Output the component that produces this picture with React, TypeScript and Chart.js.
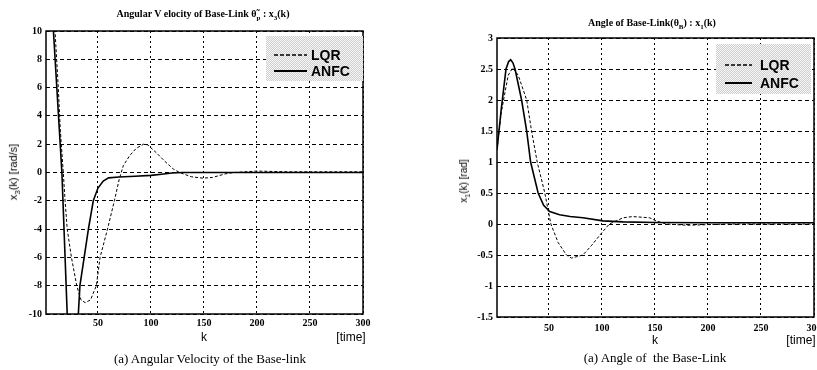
import React, { useEffect, useRef } from "react";
import { Chart, registerables } from "chart.js";

Chart.register(...registerables);

// ---------- shared x axis ----------
const kTicks = [50, 100, 150, 200, 250, 300];

// ---------- (left) angular velocity x3(k) ----------
const velTicks = [-10, -8, -6, -4, -2, 0, 2, 4, 6, 8, 10];
const kVelLQR = [1, 9.5, 12.6, 14.5, 17.3, 19, 21, 25, 30, 34, 38, 43, 48.5, 52, 59, 65.5, 70, 74, 80, 86, 93, 97, 105, 113, 121, 127, 138, 149, 158, 170, 178, 200, 230, 300];
const velLQR = [20, 10, 6, 3, 0, -2, -4, -6, -8, -9, -9.2, -9, -8, -6, -4, -2, -0.5, 0.5, 1.2, 1.7, 2.0, 1.95, 1.4, 0.8, 0.25, 0, -0.3, -0.4, -0.35, -0.1, 0, 0.1, 0.05, 0.05];
const kVelANFC = [1, 8, 16, 21, 26, 31.5, 33, 37, 41, 45.6, 50, 55, 60, 70, 85, 100, 110, 120, 130, 300];
const velANFC = [19, 10, 0, -10, -18, -10, -8, -6, -4, -2, -1.1, -0.6, -0.38, -0.32, -0.26, -0.2, -0.12, -0.03, 0, 0];

// ---------- (right) angle x1(k) ----------
const angTicks = [-1.5, -1, -0.5, 0, 0.5, 1, 1.5, 2, 2.5, 3];
const kAngLQR = [1, 5, 11.6, 15.8, 21, 29, 33.6, 38.9, 46.1, 51.8, 58.7, 66.5, 71.2, 82, 90, 99.4, 107, 119.8, 129, 145, 151, 160.6, 180, 200, 220, 300];
const angLQR = [1.2, 1.8, 2.4, 2.52, 2.4, 2.0, 1.5, 1.0, 0.5, 0, -0.3, -0.5, -0.55, -0.5, -0.35, -0.15, 0, 0.1, 0.12, 0.1, 0.05, 0, -0.02, -0.01, 0, 0];
const kAngANFC = [1, 5, 9.5, 12, 13.9, 16, 18, 24.2, 29, 32.7, 39.8, 45, 50.8, 60, 70, 82, 101, 120, 150, 200, 300];
const angANFC = [1.2, 1.85, 2.5, 2.62, 2.65, 2.6, 2.5, 2.0, 1.5, 1.0, 0.5, 0.3, 0.2, 0.15, 0.12, 0.1, 0.05, 0.035, 0.025, 0.02, 0.02];

const zip = (ks: number[], vs: number[]) => ks.map((k, i) => ({ x: k, y: vs[i] }));

const framePlugin = {
  id: "frame",
  afterDraw(chart: any) {
    const { ctx, chartArea } = chart;
    const { left, top, right, bottom } = chartArea;
    ctx.save();
    ctx.strokeStyle = "#000";
    ctx.lineWidth = 1.5;
    ctx.strokeRect(left, top, right - left, bottom - top);
    ctx.restore();
  },
};

type Area = { left: number; top: number; right: number; bottom: number };

function Plot(props: {
  width: number;
  height: number;
  area: Area;
  yMin: number;
  yMax: number;
  yTicks: number[];
  lqr: { x: number; y: number }[];
  anfc: { x: number; y: number }[];
  xPad: number;
}) {
  const ref = useRef<HTMLCanvasElement | null>(null);
  useEffect(() => {
    const { width, height, area, yMin, yMax, yTicks, lqr, anfc, xPad } = props;
    const tickFont = { family: "'Liberation Serif', serif", size: 10, weight: "bold" as const };
    const chart = new Chart(ref.current as HTMLCanvasElement, {
      type: "line",
      data: {
        datasets: [
          {
            label: "LQR",
            data: lqr,
            borderColor: "#000",
            borderWidth: 1,
            borderDash: [3, 2],
            pointRadius: 0,
            fill: false,
            clip: 0,
          },
          {
            label: "ANFC",
            data: anfc,
            borderColor: "#000",
            borderWidth: 1.6,
            pointRadius: 0,
            fill: false,
            clip: 0,
          },
        ],
      },
      options: {
        animation: false,
        responsive: false,
        maintainAspectRatio: false,
        layout: { padding: { left: 0, top: area.top, right: width - area.right, bottom: 0 } },
        plugins: { legend: { display: false }, tooltip: { enabled: false }, title: { display: false } },
        scales: {
          x: {
            type: "linear",
            min: 1,
            max: 300,
            afterBuildTicks: (s: any) => {
              s.ticks = kTicks.map((v) => ({ value: v }));
            },
            afterFit: (s: any) => {
              s.height = height - area.bottom;
            },
            ticks: {
              font: tickFont,
              color: "#000",
              padding: xPad,
              maxRotation: 0,
              autoSkip: false,
              callback: (v: any) => String(v),
            },
            grid: { color: "#000", lineWidth: 1, drawTicks: false },
            border: { display: false, dash: [2, 3] },
          },
          y: {
            type: "linear",
            min: yMin,
            max: yMax,
            afterBuildTicks: (s: any) => {
              s.ticks = yTicks.map((v) => ({ value: v }));
            },
            afterFit: (s: any) => {
              s.width = area.left;
            },
            ticks: {
              font: tickFont,
              color: "#000",
              padding: 4,
              autoSkip: false,
              callback: (v: any) => String(v),
            },
            grid: { color: "#000", lineWidth: 1, drawTicks: false },
            border: { display: false, dash: [4, 3] },
          },
        },
      } as any,
      plugins: [framePlugin],
    });
    return () => chart.destroy();
  }, []);
  return (
    <canvas
      ref={ref}
      width={props.width}
      height={props.height}
      style={{ display: "block", width: props.width, height: props.height }}
    />
  );
}

const abs = (extra: React.CSSProperties): React.CSSProperties => ({
  position: "absolute",
  whiteSpace: "pre",
  color: "#000",
  lineHeight: 1,
  ...extra,
});

function Legend(props: { left: number; top: number; width: number; height: number; row1: number; row2: number; lineX: number; lineW: number; textX: number }) {
  const { left, top, width, height, row1, row2, lineX, lineW, textX } = props;
  const txt: React.CSSProperties = {
    position: "absolute",
    left: textX,
    fontFamily: "'Liberation Sans', Arial, sans-serif",
    fontWeight: "bold",
    fontSize: 14,
    lineHeight: "14px",
    color: "#000",
  };
  return (
    <div
      style={{
        position: "absolute",
        left,
        top,
        width,
        height,
        backgroundImage: "repeating-conic-gradient(#cfcfcf 0% 25%, #f6f6f6 0% 50%)",
        backgroundSize: "2px 2px",
      }}
    >
      <svg width={width} height={height} style={{ position: "absolute", left: 0, top: 0 }}>
        <line x1={lineX} y1={row1} x2={lineX + lineW} y2={row1} stroke="#000" strokeWidth={1.3} strokeDasharray="4 2" />
        <line x1={lineX} y1={row2} x2={lineX + lineW} y2={row2} stroke="#000" strokeWidth={2} />
      </svg>
      <div style={{ ...txt, top: row1 - 7 }}>LQR</div>
      <div style={{ ...txt, top: row2 - 7 }}>ANFC</div>
    </div>
  );
}

export default function App() {
  const serifBold: React.CSSProperties = { fontFamily: "'Liberation Serif', serif", fontWeight: "bold", fontSize: 10 };
  const serif: React.CSSProperties = { fontFamily: "'Liberation Serif', serif", fontSize: 13 };
  const sans: React.CSSProperties = { fontFamily: "'Liberation Sans', Arial, sans-serif", fontSize: 12 };
  return (
    <div style={{ position: "absolute", left: 0, top: 0, width: 817, height: 370, overflow: "hidden", background: "#fff" }}>
      {/* left chart */}
      <div style={{ position: "absolute", left: 0, top: 0 }}>
        <Plot
          width={400}
          height={370}
          area={{ left: 46, top: 31, right: 363, bottom: 314 }}
          yMin={-10}
          yMax={10}
          yTicks={velTicks}
          lqr={zip(kVelLQR, velLQR)}
          anfc={zip(kVelANFC, velANFC)}
          xPad={3}
        />
      </div>
      <div style={abs({ ...serifBold, left: 203, top: 15, transform: "translate(-50%,-50%)" })}>
        Angular V elocity of Base-Link θ̃<sub style={{ fontSize: 7 }}>p</sub> : x<sub style={{ fontSize: 7 }}>3</sub>(k)
      </div>
      <div style={abs({ fontFamily: "'Liberation Sans', Arial, sans-serif", fontSize: 11, left: 15, top: 172, transform: "translate(-50%,-50%) rotate(-90deg)" })}>
        x<sub style={{ fontSize: 8 }}>3</sub>(k) [rad/s]
      </div>
      <Legend left={266} top={36} width={97} height={45} row1={19} row2={35} lineX={8} lineW={33} textX={45} />
      <div style={abs({ ...sans, left: 204, top: 337, transform: "translate(-50%,-50%)" })}>k</div>
      <div style={abs({ ...sans, left: 351, top: 337, transform: "translate(-50%,-50%)" })}>[time]</div>
      <div style={abs({ ...serif, left: 210, top: 358, transform: "translate(-50%,-50%)" })}>(a) Angular Velocity of the Base-link</div>

      {/* right chart */}
      <div style={{ position: "absolute", left: 410, top: 0 }}>
        <Plot
          width={420}
          height={370}
          area={{ left: 87, top: 38, right: 404, bottom: 317 }}
          yMin={-1.5}
          yMax={3}
          yTicks={angTicks}
          lqr={zip(kAngLQR, angLQR)}
          anfc={zip(kAngANFC, angANFC)}
          xPad={5}
        />
      </div>
      <div style={abs({ ...serifBold, left: 652, top: 24, transform: "translate(-50%,-50%)" })}>
        Angle of Base-Link(θ<sub style={{ fontSize: 7 }}>B</sub>) : x<sub style={{ fontSize: 7 }}>1</sub>(k)
      </div>
      <div style={abs({ fontFamily: "'Liberation Sans', Arial, sans-serif", fontSize: 10, left: 465, top: 181, transform: "translate(-50%,-50%) rotate(-90deg)" })}>
        x<sub style={{ fontSize: 7 }}>1</sub>(k) [rad]
      </div>
      <Legend left={716} top={44} width={95} height={50} row1={21} row2={39} lineX={9} lineW={27} textX={44} />
      <div style={abs({ ...sans, left: 655, top: 340, transform: "translate(-50%,-50%)" })}>k</div>
      <div style={abs({ ...sans, left: 801, top: 340, transform: "translate(-50%,-50%)" })}>[time]</div>
      <div style={abs({ ...serif, left: 655, top: 357, transform: "translate(-50%,-50%)" })}>(a) Angle of  the Base-Link</div>
    </div>
  );
}
